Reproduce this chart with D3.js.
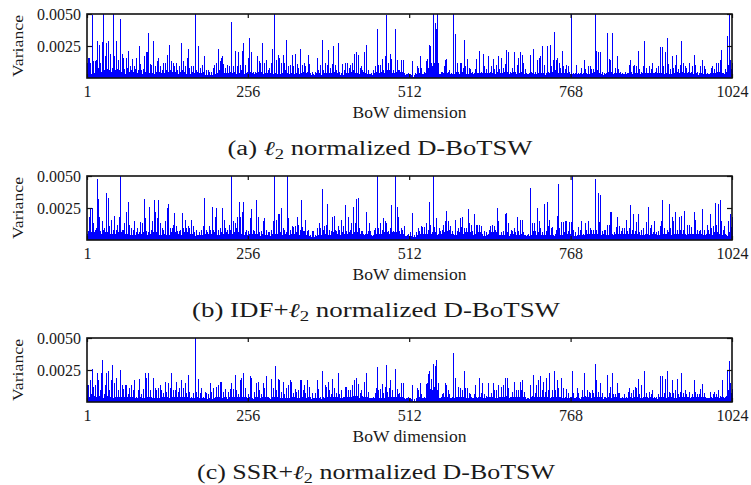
<!DOCTYPE html>
<html><head><meta charset="utf-8">
<script src="https://cdn.jsdelivr.net/npm/d3@7"></script>
<style>
body{margin:0;background:#fff}
text{font-family:"Liberation Serif","DejaVu Serif",serif;fill:#1a1a1a}
</style>
</head><body>
<svg id="chart" width="751" height="485"></svg>
<script>
// values are variances in units of 1e-4
const VALUE_UNIT = 1e-4;
const varianceL2 = [
12,5,16,6,16,4,12,3,49,5,7,13,4,13,6,14,
5,29,4,8,26,3,12,5,28,4,55,3,6,17,4,27,
5,7,29,4,6,19,3,5,8,4,55,17,4,6,29,5,
3,7,14,4,6,46,5,3,19,6,16,4,7,3,16,5,
4,8,21,3,5,9,4,6,15,3,5,9,4,7,3,16,
4,6,3,25,5,11,4,6,3,7,4,17,5,3,20,6,
20,35,5,4,11,3,6,10,4,5,29,3,6,9,4,5,
13,4,16,5,3,9,4,6,3,12,5,4,12,3,6,4,
18,5,3,26,4,6,13,3,5,12,4,9,3,5,12,4,
6,3,9,4,5,3,27,4,6,13,3,5,9,4,3,16,
4,23,5,8,3,4,9,3,5,9,4,3,55,4,6,3,
5,25,4,3,8,4,2,10,3,5,17,3,2,6,3,2,
6,2,3,5,2,3,5,2,8,3,4,10,3,5,12,4,
23,3,6,13,4,16,5,17,3,11,4,3,8,4,3,10,
4,3,9,4,5,44,3,4,9,3,5,21,4,3,9,4,
5,20,4,10,3,6,21,4,27,5,3,10,3,4,2,5,
16,4,31,5,3,20,4,2,5,3,2,5,3,4,17,3,
5,13,4,12,3,5,4,27,3,5,12,4,3,14,4,3,
6,3,8,4,3,12,23,4,3,6,55,4,5,14,3,18,
4,6,16,3,5,12,4,18,3,12,4,6,3,30,4,5,
9,3,5,10,4,3,18,4,9,3,5,19,4,3,11,4,
8,3,5,23,4,3,10,4,5,12,3,9,4,3,5,18,
4,11,3,4,2,3,5,2,3,2,5,3,4,16,3,6,
3,4,10,3,2,30,3,6,2,4,3,12,4,10,3,22,
4,3,8,4,3,11,4,25,3,5,10,3,6,2,4,27,
3,5,2,4,3,11,4,2,6,3,12,4,3,12,4,3,
8,3,10,4,5,12,4,6,19,5,4,20,6,4,18,5,
3,8,4,9,3,6,4,5,20,4,3,26,4,3,6,2,
3,3,2,3,4,2,3,6,4,3,9,5,4,38,5,10,
4,6,10,5,15,4,3,6,4,17,5,49,4,6,12,5,
6,19,5,15,4,3,6,3,4,38,3,5,14,3,6,3,
6,3,5,14,4,5,14,3,4,2,3,3,2,3,4,2,
3,3,2,2,13,2,1,2,2,4,3,2,9,3,8,4,
3,17,4,8,3,2,3,5,3,4,13,5,15,6,8,26,
10,25,8,12,9,55,10,12,8,43,38,10,55,5,12,3,
3,2,5,3,5,4,3,9,14,6,15,4,3,5,2,6,
3,2,4,3,2,55,4,3,34,4,5,3,12,4,5,3,
12,4,12,3,5,8,3,30,4,9,3,15,4,3,8,4,
7,3,4,2,5,3,4,2,7,3,15,4,3,4,21,3,
4,5,2,3,4,19,3,9,4,3,7,2,4,17,3,4,
5,3,9,4,15,3,4,7,3,4,10,5,17,4,3,7,
4,5,16,4,8,3,5,11,4,6,22,5,4,20,3,4,
5,3,4,8,3,5,20,4,5,3,4,10,3,16,4,5,
20,5,4,18,5,12,3,7,3,4,2,3,3,2,4,18,
3,5,3,4,23,3,2,4,5,3,4,14,4,16,5,6,
17,4,25,5,4,10,3,2,3,4,25,3,5,4,3,26,
4,9,5,4,14,36,5,6,14,4,5,16,4,12,5,8,
3,4,21,4,9,3,4,7,3,10,4,3,9,3,5,3,
4,55,3,4,2,3,4,2,3,10,3,2,4,3,4,2,
3,8,3,4,3,14,4,7,3,4,3,9,4,3,9,4,
7,3,4,7,3,5,55,5,21,6,4,5,20,4,20,5,
3,5,3,2,4,3,2,3,4,35,4,5,15,4,5,14,
5,35,4,3,4,3,5,8,4,17,5,7,3,4,5,2,
3,4,2,3,2,3,5,2,3,4,3,4,10,4,14,5,
4,3,9,4,10,3,4,9,3,4,21,3,4,7,3,5,
3,4,9,4,29,3,4,8,3,4,3,4,9,3,4,7,
3,12,4,3,4,3,5,8,3,4,9,3,4,5,24,4,
5,24,4,9,3,5,20,4,31,5,4,11,3,7,4,3,
17,4,3,8,4,10,4,18,5,3,7,4,3,10,4,29,
4,5,12,4,3,9,4,8,3,4,5,3,12,4,3,5,
9,4,3,18,4,10,3,4,5,3,2,4,3,9,4,3,
14,4,3,9,4,7,3,2,4,3,2,3,2,4,8,3,
9,4,3,7,3,4,12,4,5,3,12,5,6,14,5,22,
4,3,4,3,5,7,4,5,33,4,10,55,6,14,7,12
];
const varianceIdfL2 = [
5,4,7,6,18,5,24,6,25,4,13,5,6,8,4,9,
48,5,32,6,18,4,7,5,15,4,8,5,9,4,6,37,
5,6,33,4,11,5,4,16,2,5,8,4,19,5,8,4,
12,5,6,18,5,55,6,4,8,5,8,4,13,5,6,22,
5,4,30,6,12,4,5,9,4,8,3,5,15,4,6,3,
9,4,5,6,4,14,5,4,13,5,6,32,5,17,4,7,
4,5,6,26,4,5,8,4,15,5,6,31,5,22,4,6,
17,5,31,4,6,13,4,9,5,4,8,5,6,15,4,25,
6,28,5,4,9,5,6,9,4,12,5,21,4,6,11,4,
7,5,7,4,5,8,4,21,5,9,4,6,16,5,9,4,
6,11,4,9,5,6,16,4,5,11,4,6,3,5,8,3,
4,4,3,6,4,3,8,4,5,11,33,4,5,8,4,6,
4,5,11,4,8,5,4,26,5,8,4,6,18,5,25,4,
6,8,4,5,9,4,6,25,5,4,16,5,9,4,6,8,
4,5,12,4,8,55,5,4,15,5,6,13,4,9,5,18,
6,5,30,6,18,5,22,6,30,5,4,6,3,8,4,3,
7,4,5,17,6,24,5,4,8,3,7,4,5,31,5,4,
18,4,6,3,5,7,4,5,15,5,17,4,5,8,4,3,
6,4,6,3,8,4,5,4,15,5,55,5,6,16,5,20,
6,5,20,6,5,25,4,9,5,4,8,5,4,6,55,5,
17,4,5,8,4,5,11,4,10,5,4,11,5,6,18,5,
12,4,8,5,31,5,10,7,4,7,4,16,4,7,3,5,
8,3,4,3,2,7,3,7,4,2,3,4,3,9,6,4,
13,4,5,9,4,40,5,8,4,11,5,4,12,5,28,4,
5,8,4,7,5,18,4,6,19,5,8,4,7,5,4,11,
5,8,4,5,16,4,6,11,4,5,27,4,7,5,18,4,
5,6,8,4,13,5,6,26,5,6,13,5,32,6,33,5,
9,4,5,7,4,7,3,5,4,3,5,22,4,5,7,4,
13,4,7,3,4,3,2,4,8,4,9,5,6,55,6,9,
5,6,13,5,8,6,5,17,6,15,5,13,6,4,7,5,
4,9,5,27,6,4,7,5,6,55,5,6,26,7,18,5,
7,4,5,9,4,8,5,11,4,3,2,3,4,2,5,3,
2,6,3,2,21,3,2,4,2,2,3,6,4,9,4,7,
3,5,11,4,10,3,5,4,10,5,13,4,5,8,6,30,
6,12,5,1,6,55,5,10,6,5,17,5,4,4,5,9,
4,7,4,5,8,5,12,6,15,8,23,7,6,15,5,8,
4,11,5,4,7,4,5,4,16,5,4,7,5,9,4,6,
17,5,10,6,18,5,6,9,5,6,9,5,6,24,5,13,
5,6,12,5,7,4,6,20,5,12,6,12,5,6,12,5,
6,11,4,5,4,3,7,4,3,6,4,4,3,5,8,4,
11,5,6,12,5,6,11,4,8,5,6,25,5,15,4,3,
4,3,6,4,7,5,4,6,20,5,21,6,13,4,3,5,
4,8,4,7,5,4,9,5,6,4,5,18,5,7,4,5,
16,5,10,16,5,6,4,3,4,3,4,3,5,4,3,41,
5,4,13,5,7,4,13,5,7,4,25,5,6,15,5,4,
9,4,6,5,4,28,5,4,7,5,30,5,11,5,16,4,
5,9,4,10,4,3,3,5,8,4,19,5,44,5,9,4,
5,14,4,5,14,5,6,15,5,15,5,7,4,5,14,5,
14,5,55,4,8,3,4,6,3,2,4,3,10,4,8,3,
5,15,4,4,5,4,13,5,4,8,5,15,4,5,9,4,
8,4,5,8,4,5,48,5,8,4,5,6,37,14,35,5,
4,7,4,5,8,4,8,5,4,12,5,4,12,5,6,22,
22,5,4,4,3,6,4,5,10,5,18,5,4,11,5,4,
7,4,9,5,9,4,5,16,5,4,7,5,9,5,27,5,
4,8,5,20,5,4,7,5,14,5,4,20,5,6,4,5,
8,4,9,5,4,4,5,4,14,5,26,5,4,9,5,4,
12,5,6,4,15,5,4,5,6,4,5,7,4,11,5,15,
5,31,5,4,9,5,1,5,8,4,5,6,28,5,9,4,
18,5,4,15,5,6,22,5,8,4,5,18,5,8,4,19,
5,4,8,5,23,5,4,4,5,12,5,12,4,5,10,4,
5,4,5,22,5,16,4,5,8,4,5,7,4,8,5,4,
24,5,4,8,5,4,5,4,12,5,8,4,5,20,5,9,
4,11,5,6,5,29,5,12,6,28,6,5,31,6,15,5,
4,8,5,11,4,5,3,4,3,5,15,6,20,6,10,18
];
const varianceSsrL2 = [
13,12,13,10,4,17,3,6,26,4,12,3,5,12,13,4,
23,4,17,3,5,9,3,23,4,33,3,6,4,13,3,23,
4,5,24,3,9,4,3,17,4,29,3,5,15,4,3,19,
4,3,9,4,3,25,4,3,13,4,10,3,4,13,3,13,
4,3,6,3,11,4,3,13,4,9,3,4,17,3,4,4,
3,9,4,3,18,4,3,6,3,10,4,3,23,4,3,19,
4,23,3,4,9,3,2,4,3,19,4,3,11,4,3,9,
3,11,4,3,13,4,9,3,4,7,3,4,16,3,8,4,
3,15,4,3,11,4,23,3,4,9,3,4,9,3,16,4,
3,8,4,11,3,4,17,3,4,11,3,4,15,3,7,4,
3,21,4,8,3,2,4,3,2,7,3,2,52,3,8,3,
4,18,3,2,7,3,11,3,2,4,3,2,8,3,7,2,
3,6,2,3,15,3,8,2,3,11,3,2,4,3,12,4,
13,3,4,16,3,4,16,3,8,3,4,10,3,4,3,2,
8,3,4,10,3,15,4,3,10,3,4,21,3,9,4,3,
6,3,4,17,4,19,3,4,23,3,4,11,3,4,2,3,
6,3,4,20,3,19,3,2,2,3,8,3,4,15,3,4,
16,3,9,3,4,6,3,4,15,3,11,4,3,20,3,4,
4,2,3,2,4,18,3,4,11,3,4,28,3,9,4,18,
3,4,17,3,4,8,3,16,4,3,6,3,4,11,3,4,
13,3,17,4,3,16,4,7,3,4,10,3,4,8,3,9,
4,3,17,4,17,3,4,9,3,13,4,7,3,4,17,3,
4,12,3,4,2,3,7,2,3,3,2,7,3,17,4,10,
3,2,4,3,2,24,3,4,2,3,13,4,12,3,4,16,
3,9,4,3,6,3,18,4,3,11,4,3,7,3,4,23,
3,6,3,4,9,3,2,4,3,4,12,3,12,4,3,9,
3,4,9,3,4,13,4,5,17,4,5,19,4,5,14,4,
3,7,4,9,3,5,3,4,16,3,4,23,3,4,8,3,
3,2,3,3,2,3,4,2,3,7,3,11,4,27,4,9,
3,4,10,3,14,4,3,7,3,12,4,29,3,8,4,11,
4,17,3,4,9,3,4,3,4,26,3,4,10,3,6,3,
7,3,4,15,3,4,15,3,3,2,3,2,2,3,4,2,
2,3,2,2,13,2,1,2,2,1,2,3,11,3,9,3,
4,15,3,6,3,2,3,3,4,3,14,5,15,6,22,8,
24,10,18,8,9,30,10,12,9,28,12,33,9,15,5,3,
2,3,4,3,6,3,7,4,15,5,13,4,3,9,3,6,
3,2,3,4,2,38,4,3,19,3,4,3,4,12,3,4,
11,3,4,9,3,4,3,24,4,11,3,11,4,3,7,3,
6,3,4,3,2,3,6,3,13,3,4,3,2,4,19,3,
4,7,3,4,15,3,4,6,3,5,3,4,3,15,4,3,
4,3,7,4,15,3,4,9,3,4,9,3,4,13,3,4,
4,3,12,4,3,13,4,3,19,4,5,19,4,11,3,4,
4,3,4,8,3,4,16,3,4,9,3,4,9,3,4,16,
15,9,4,17,4,3,8,3,4,2,3,2,3,3,2,13,
3,4,5,3,21,3,4,7,3,13,4,3,17,4,3,20,
3,4,9,3,16,4,3,8,3,19,4,3,9,4,23,3,
4,3,9,3,4,24,3,9,4,3,17,4,11,3,4,4,
3,19,3,4,11,3,2,4,3,10,3,4,7,3,2,4,
3,4,24,3,7,3,2,3,4,3,11,3,7,3,2,2,
3,4,9,3,4,23,3,5,3,4,9,3,4,8,3,7,
3,4,9,3,7,4,30,4,17,3,4,8,3,4,15,3,
4,7,3,2,4,3,2,4,3,21,3,4,7,3,12,4,
3,23,3,6,3,4,6,3,4,15,3,7,4,7,3,2,
3,4,2,3,2,6,3,2,4,3,2,8,3,11,4,3,
7,3,4,9,3,4,12,3,11,4,18,3,4,6,3,4,
13,3,3,4,24,3,4,7,3,4,3,2,8,3,4,6,
3,9,3,2,4,3,2,4,3,2,6,3,4,3,20,4,
3,20,4,3,7,4,18,3,4,24,3,4,8,3,7,4,
17,3,4,7,3,4,9,3,18,4,6,3,4,8,3,23,
3,4,7,3,4,9,3,6,3,4,4,3,8,3,4,3,
6,3,4,17,3,8,3,4,6,3,4,6,3,10,4,3,
14,3,4,7,3,4,3,2,3,2,3,2,3,8,3,4,
3,6,3,8,3,4,6,3,4,3,9,3,4,5,3,4,
17,3,4,3,4,3,4,5,24,9,5,32,15,6,7,10
];
const seriesList = [varianceL2, varianceIdfL2, varianceSsrL2];
const xTickValues = [1, 256, 512, 768, 1024];
const yTickValues = [0.0025, 0.0050];
const yTickLabels = ["0.0025", "0.0050"];
const captionPrefixes = ["(a) ", "(b) IDF+", "(c) SSR+"];
const captionSuffix = " normalized D-BoTSW";
const xTitle = "BoW dimension";
const yTitle = "Variance";

const FONT = '"Liberation Serif","DejaVu Serif",serif';
const svg = d3.select("#chart");
const left = 87, right = 732, plotH = 64;
const panelTops = [14, 176, 338];
const captionLayout = [{cx: 380, w: 305}, {cx: 376, w: 368}, {cx: 376, w: 358}];

const x = d3.scaleLinear().domain([1, 1024]).range([left, right]);

seriesList.forEach((series, p) => {
  const top = panelTops[p], bottom = top + plotH;
  const y = d3.scaleLinear().domain([0, 0.005]).range([bottom, top]).clamp(true);
  const g = svg.append("g");

  g.append("g").selectAll("rect").data(series).join("rect")
    .attr("x", (d, i) => x(i + 1) - 0.5)
    .attr("width", 1)
    .attr("y", d => y(d * VALUE_UNIT))
    .attr("height", d => bottom - y(d * VALUE_UNIT))
    .attr("fill", "#0000ff")
    .attr("shape-rendering", "crispEdges");

  // frame
  g.append("rect").attr("x", left).attr("y", top).attr("width", right - left).attr("height", plotH)
    .attr("fill", "none").attr("stroke", "#111").attr("stroke-width", 1.6);

  // axes
  const ab = d3.axisBottom(x).tickValues(xTickValues).tickSizeInner(-4).tickSizeOuter(0).tickPadding(8).tickFormat(d3.format("d"));
  const gb = g.append("g").attr("transform", `translate(0,${bottom})`).call(ab);
  const at = d3.axisTop(x).tickValues(xTickValues).tickSizeInner(-4).tickSizeOuter(0).tickFormat("");
  const gt = g.append("g").attr("transform", `translate(0,${top})`).call(at);
  const al = d3.axisLeft(y).tickValues(yTickValues).tickSizeInner(-5).tickSizeOuter(0).tickPadding(6)
    .tickFormat((d, i) => yTickLabels[i]);
  const gl = g.append("g").attr("transform", `translate(${left},0)`).call(al);
  const ar = d3.axisRight(y).tickValues(yTickValues).tickSizeInner(-5).tickSizeOuter(0).tickFormat("");
  const gr = g.append("g").attr("transform", `translate(${right},0)`).call(ar);
  [gb, gt, gl, gr].forEach(a => {
    a.select(".domain").remove();
    a.selectAll(".tick line").attr("stroke", "#111").attr("stroke-width", 1.2);
    a.selectAll("text").attr("font-family", FONT).attr("fill", "#1a1a1a");
  });
  gb.selectAll("text").attr("font-size", 16);
  gl.selectAll("text").attr("font-size", 16);

  // titles
  g.append("text").attr("x", (left + right) / 2).attr("y", bottom + 40)
    .attr("text-anchor", "middle").attr("font-size", 16).attr("font-family", FONT)
    .attr("textLength", 114).attr("lengthAdjust", "spacingAndGlyphs").text(xTitle);
  g.append("text").attr("transform", `translate(23,${top + plotH / 2}) rotate(-90)`)
    .attr("text-anchor", "middle").attr("font-size", 15).attr("font-family", FONT)
    .attr("textLength", 62).attr("lengthAdjust", "spacingAndGlyphs").text(yTitle);

  // caption
  const c = captionLayout[p];
  const t = g.append("text").attr("x", c.cx).attr("y", bottom + 77)
    .attr("text-anchor", "middle").attr("font-size", 20).attr("font-family", FONT)
    .attr("textLength", c.w).attr("lengthAdjust", "spacingAndGlyphs");
  t.append("tspan").text(captionPrefixes[p]);
  t.append("tspan").attr("font-family", '"DejaVu Serif",serif').attr("font-style", "italic").text("\u2113");
  t.append("tspan").attr("font-size", 14).attr("dy", 4).text("2");
  t.append("tspan").attr("dy", -4).text(captionSuffix);
});
</script>
</body></html>
